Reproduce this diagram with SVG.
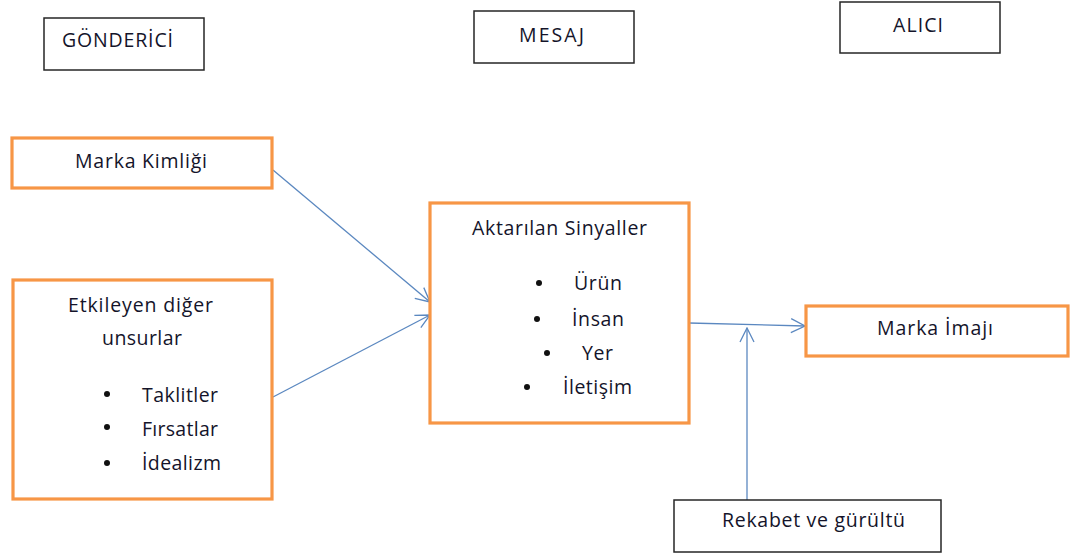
<svg xmlns="http://www.w3.org/2000/svg" width="1071" height="556" viewBox="0 0 1071 556">
  <style>
    .hdr { fill: #ffffff; stroke: #262626; stroke-width: 1.5; }
    .box { fill: #ffffff; stroke: #f79646; stroke-width: 3.2; }
    .plain { fill: #ffffff; stroke: #262626; stroke-width: 1.5; }
    text { font-family: "Open Sans", "Liberation Sans", sans-serif; font-size: 19.5px; fill: #14142a; }
    .dot { fill: #111111; }
    .conn { stroke: #5b88c0; stroke-width: 1.3; fill: none; }
  </style>
  <defs>
    <marker id="arrow" viewBox="0 0 16 16" refX="15" refY="8" markerWidth="16" markerHeight="16" markerUnits="userSpaceOnUse" orient="auto">
      <path d="M1,1 L15,8 L1,15" fill="none" stroke="#5b88c0" stroke-width="1.3"/>
    </marker>
  </defs>

  <!-- column headers -->
  <g id="gonderici">
    <rect class="hdr" x="44" y="18" width="160" height="52"/>
    <text x="62" y="47" textLength="111" lengthAdjust="spacing">GÖNDERİCİ</text>
  </g>
  <g id="mesaj">
    <rect class="hdr" x="474" y="11" width="160" height="52"/>
    <text x="519" y="42" textLength="65" lengthAdjust="spacing">MESAJ</text>
  </g>
  <g id="alici">
    <rect class="hdr" x="840" y="2" width="160" height="51"/>
    <text x="893" y="32" textLength="50" lengthAdjust="spacing">ALICI</text>
  </g>

  <!-- connectors -->
  <g id="connectors">
    <line class="conn" x1="273" y1="170" x2="430" y2="302" marker-end="url(#arrow)"/>
    <line class="conn" x1="273" y1="397" x2="430" y2="315" marker-end="url(#arrow)"/>
    <line class="conn" x1="689" y1="323" x2="805" y2="326" marker-end="url(#arrow)"/>
    <line class="conn" x1="747" y1="500" x2="747" y2="328" marker-end="url(#arrow)"/>
  </g>

  <!-- sender side -->
  <g id="marka-kimligi">
    <rect class="box" x="12" y="138" width="260" height="50"/>
    <text x="75" y="168" textLength="132" lengthAdjust="spacing">Marka Kimliği</text>
  </g>
  <g id="etkileyen">
    <rect class="box" x="13" y="280" width="259" height="219"/>
    <text x="68" y="312" textLength="145" lengthAdjust="spacing">Etkileyen diğer</text>
    <text x="102" y="345" textLength="80" lengthAdjust="spacing">unsurlar</text>
    <circle class="dot" cx="107" cy="394" r="3"/>
    <text x="142" y="402" textLength="76" lengthAdjust="spacing">Taklitler</text>
    <circle class="dot" cx="107" cy="427" r="3"/>
    <text x="142" y="436" textLength="76" lengthAdjust="spacing">Fırsatlar</text>
    <circle class="dot" cx="107" cy="463" r="3"/>
    <text x="142" y="470" textLength="79" lengthAdjust="spacing">İdealizm</text>
  </g>

  <!-- message -->
  <g id="aktarilan">
    <rect class="box" x="430" y="203" width="259" height="220"/>
    <text x="472" y="235" textLength="175" lengthAdjust="spacing">Aktarılan Sinyaller</text>
    <circle class="dot" cx="539" cy="283" r="3"/>
    <text x="574" y="290" textLength="48" lengthAdjust="spacing">Ürün</text>
    <circle class="dot" cx="537" cy="319" r="3"/>
    <text x="572" y="326" textLength="52" lengthAdjust="spacing">İnsan</text>
    <circle class="dot" cx="547" cy="353" r="3"/>
    <text x="582" y="360" textLength="31" lengthAdjust="spacing">Yer</text>
    <circle class="dot" cx="527" cy="387" r="3"/>
    <text x="563" y="394" textLength="69" lengthAdjust="spacing">İletişim</text>
  </g>

  <!-- receiver side -->
  <g id="marka-imaji">
    <rect class="box" x="806" y="306" width="262" height="50"/>
    <text x="877" y="335" textLength="116" lengthAdjust="spacing">Marka İmajı</text>
  </g>
  <g id="rekabet">
    <rect class="plain" x="674" y="500" width="267" height="52"/>
    <text x="722" y="527" textLength="183" lengthAdjust="spacing">Rekabet ve gürültü</text>
  </g>
</svg>
